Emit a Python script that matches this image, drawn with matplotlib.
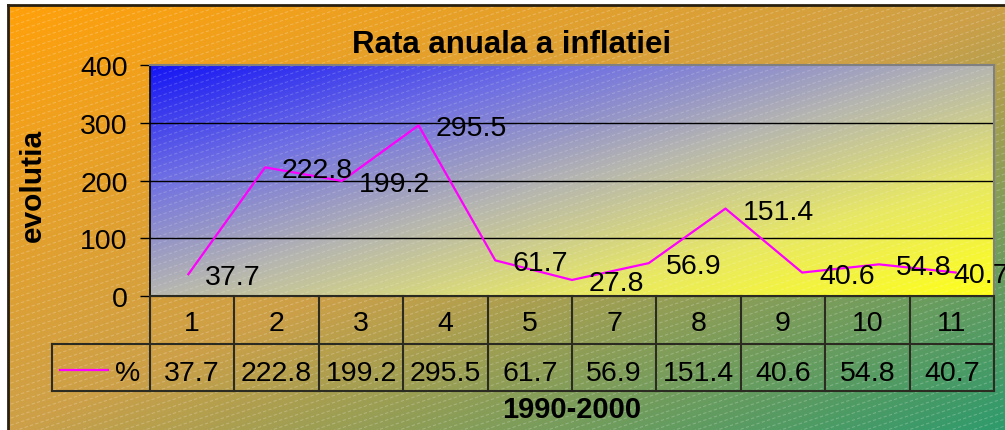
import numpy as np
import matplotlib
matplotlib.use("Agg")
import matplotlib.pyplot as plt
from matplotlib.patches import Rectangle
from matplotlib.lines import Line2D
from matplotlib.collections import LineCollection
from matplotlib.transforms import IdentityTransform

plt.rcParams['font.family'] = ['Liberation Sans', 'DejaVu Sans']

# ---- data ----
title = "Rata anuala a inflatiei"
y_label = "evolutia"
x_label = "1990-2000"
series_name = "%"
line_values = [37.7, 222.8, 199.2, 295.5, 61.7, 27.8, 56.9, 151.4, 40.6, 54.8, 40.7]
line_labels = ["37.7", "222.8", "199.2", "295.5", "61.7", "27.8", "56.9", "151.4", "40.6", "54.8", "40.7"]
table_categories = ["1", "2", "3", "4", "5", "7", "8", "9", "10", "11"]
table_values = ["37.7", "222.8", "199.2", "295.5", "61.7", "56.9", "151.4", "40.6", "54.8", "40.7"]
y_ticks = [0, 100, 200, 300, 400]

W, H = 1005, 431
NUM_FS = 20.5
fig = plt.figure(figsize=(W / 100, H / 100), dpi=100)
fig.patch.set_facecolor("white")


def px_rect(x0, y0, x1, y1):
    return [x0 / W, 1 - y1 / H, (x1 - x0) / W, (y1 - y0) / H]


def diag_gradient(stops, nx=400, ny=200):
    u = np.linspace(0, 1, nx)[None, :]
    v = np.linspace(0, 1, ny)[:, None]
    t = (u + v) / 2
    pos = np.array([s[0] for s in stops])
    cols = np.array([s[1] for s in stops], dtype=float) / 255.0
    img = np.zeros((ny, nx, 3))
    for c in range(3):
        img[..., c] = np.interp(t, pos, cols[:, c])
    return img


def add_stripes(axx, alpha, zorder):
    # subtle light diagonal dashed texture, in display pixels
    slope = 0.33
    segs = []
    for c in np.arange(-slope * W - 10, H + 10, 7.0):
        segs.append([(0, c), (W, c + slope * W)])
    lc = LineCollection(segs, colors=[(1, 1, 1, alpha)], linewidths=0.8,
                        linestyles=[(0, (3, 2))], transform=IdentityTransform(),
                        zorder=zorder)
    axx.add_collection(lc, autolim=False)
    lc.set_clip_path(axx.patch)


# ---- background (chart area) ----
bg = fig.add_axes(px_rect(8, 6, W, H), zorder=0)
bg.imshow(diag_gradient([(0, (255, 160, 10)), (0.5, (205, 160, 72)), (1, (46, 154, 108))]),
          aspect="auto", extent=(0, 1, 0, 1), interpolation="bilinear")
bg.set_xlim(0, 1); bg.set_ylim(0, 1)
add_stripes(bg, 0.22, 1)
bg.set_xticks([]); bg.set_yticks([])
for s in bg.spines.values():
    s.set_visible(False)
for side in ("top", "left"):
    bg.spines[side].set_visible(True)
    bg.spines[side].set_color("#2a2010")
    bg.spines[side].set_linewidth(2)

# ---- plot area ----
ax = fig.add_axes(px_rect(150, 66, 994, 297), zorder=2)
ax.imshow(diag_gradient([(0, (20, 20, 245)), (0.25, (110, 110, 228)), (0.5, (182, 182, 176)),
                         (0.75, (232, 232, 100)), (1, (255, 255, 25))]),
          aspect="auto", extent=(0, 11, 0, 400), interpolation="bilinear", zorder=0)
ax.set_xlim(0, 11)
ax.set_ylim(0, 400)
add_stripes(ax, 0.18, 0.5)
for yv in y_ticks[1:-1]:
    ax.axhline(yv, color="black", linewidth=1, zorder=1)

x = np.arange(len(line_values)) + 0.5
ax.plot(x, line_values, color="#ff00ff", linewidth=1.6, zorder=3, clip_on=False)
for i, (xi, yi, lab) in enumerate(zip(x, line_values, line_labels)):
    # Excel nudges the last label back so it starts inside the plot area
    dx = 17 if i < len(line_values) - 1 else -2
    ax.annotate(lab, (xi, yi), xytext=(dx, 0), textcoords="offset pixels",
                ha="left", va="center_baseline", fontsize=NUM_FS, color="black",
                zorder=4, annotation_clip=False)

ax.set_xticks([])
ax.set_yticks(y_ticks)
ax.set_yticklabels([str(v) for v in y_ticks], fontsize=NUM_FS)
ax.tick_params(axis="y", length=7, width=1, pad=9, color="black")
ax.spines["left"].set_color("black")
ax.spines["bottom"].set_color("black")
ax.spines["top"].set_color("#808080")
ax.spines["right"].set_color("#808080")
ax.spines["top"].set_linewidth(1.5)
ax.spines["right"].set_linewidth(1.5)
ax.spines["left"].set_linewidth(1.2)

fig.text(33 / W, 1 - 185 / H, y_label, rotation=90, ha="center", va="center",
         fontsize=21.5, fontweight="bold")
fig.text(512 / W, 1 - 53 / H, title, ha="center", va="baseline",
         fontsize=22.5, fontweight="bold")

# ---- data table ----
tab = fig.add_axes(px_rect(150, 297, 994, 392), zorder=2)
n = len(table_categories)
tab.set_xlim(0, n)
tab.set_ylim(0, 2)
tab.patch.set_visible(False)
tab.set_xticks([]); tab.set_yticks([])
for s in tab.spines.values():
    s.set_visible(False)
edge = "#2b2b22"
legend_w = (150 - 52) / ((994 - 150) / n)
for yv in [0, 1, 2]:
    x0 = -legend_w if yv in (0, 1) else 0
    tab.add_line(Line2D([x0, n], [yv, yv], color=edge, linewidth=1.5, clip_on=False))
for xv in range(n + 1):
    tab.add_line(Line2D([xv, xv], [0, 2], color=edge, linewidth=1.5, clip_on=False))
tab.add_line(Line2D([-legend_w, -legend_w], [0, 1], color=edge, linewidth=1.5, clip_on=False))
for i, (c, v) in enumerate(zip(table_categories, table_values)):
    tab.text(i + 0.5, 1.5, c, ha="center", va="center_baseline", fontsize=NUM_FS)
    tab.text(i + 0.5, 0.45, v, ha="center", va="center_baseline", fontsize=NUM_FS)
# legend key in the table
tab.add_line(Line2D([-legend_w + 0.09, -legend_w + 0.66], [0.45, 0.45], color="#ff00ff",
                    linewidth=1.6, clip_on=False))
tab.text(-legend_w + 0.9, 0.45, series_name, ha="center", va="center_baseline", fontsize=NUM_FS)

fig.text(572 / W, 1 - 418 / H, x_label, ha="center", va="baseline",
         fontsize=21, fontweight="bold")

fig.savefig("out.png", dpi=100)
